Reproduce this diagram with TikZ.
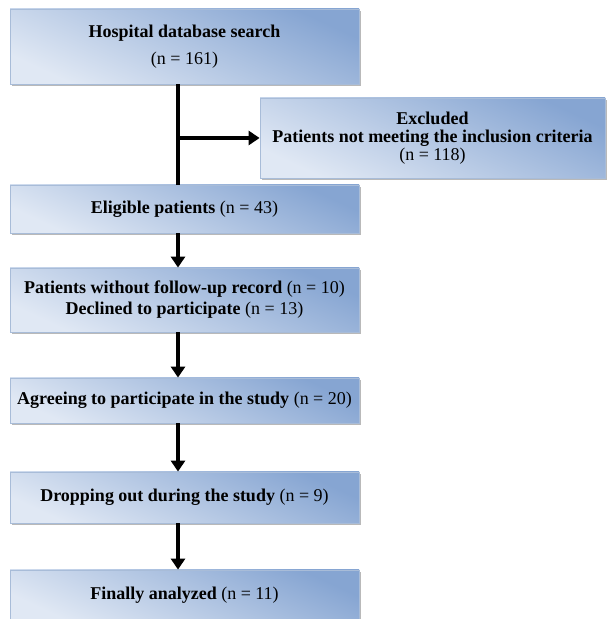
\documentclass[tikz,border=0pt]{standalone}
\usepackage{fontspec}
\setmainfont{Liberation Serif}
\usetikzlibrary{arrows.meta,shadows}
\definecolor{boxtop}{RGB}{134,165,210}
\definecolor{boxbot}{RGB}{224,232,244}
\definecolor{boxline}{RGB}{168,188,216}
\begin{document}
\begin{tikzpicture}[x=1pt, y=1pt,
  every node/.style={inner sep=0pt, align=center, font=\fontsize{18}{21}\selectfont},
  stage/.style={draw=boxline, line width=0.8pt, top color=boxtop, bottom color=boxbot,
    shading angle=-25, minimum width=349pt,
    drop shadow={shadow xshift=1.5pt, shadow yshift=-2pt, fill=gray, opacity=0.55}},
  link/.style={line width=4pt},
  arr/.style={line width=4pt, -{Triangle[width=14pt,length=11pt]}}]
  \useasboundingbox (0,0) rectangle (607,619);
  \node[stage, minimum height=75pt, font=\fontsize{18}{27}\selectfont] (hosp) at (184.5,572.5)
    {\textbf{Hospital database search}\\(n = 161)};
  \node[stage, minimum width=345pt, minimum height=80pt, font=\fontsize{18}{18}\selectfont] (excl) at (432.5,481)
    {\textbf{Excluded}\\\textbf{Patients not meeting the inclusion criteria}\\(n = 118)};
  \node[stage, minimum height=48pt] (elig) at (184.5,410)
    {\textbf{Eligible patients} (n = 43)};
  \node[stage, minimum height=64pt] (nofol) at (184.5,319)
    {\textbf{Patients without follow-up record} (n = 10)\\\textbf{Declined to participate} (n = 13)};
  \node[stage, minimum height=45pt] (agree) at (184.5,218.5)
    {\textbf{Agreeing to participate in the study} (n = 20)};
  \node[stage, minimum height=51pt] (drop) at (184.5,121.5)
    {\textbf{Dropping out during the study} (n = 9)};
  \node[stage, minimum height=50pt] (final) at (184.5,24)
    {\textbf{Finally analyzed} (n = 11)};
  \coordinate (split) at (178,481);
  \draw[link] (hosp.south -| split) -- (elig.north -| split);
  \draw[arr] (split) -- (split -| excl.west);
  \draw[arr] (elig.south -| split) -- (nofol.north -| split);
  \draw[arr] (nofol.south -| split) -- (agree.north -| split);
  \draw[arr] (agree.south -| split) -- (drop.north -| split);
  \draw[arr] (drop.south -| split) -- (final.north -| split);
\end{tikzpicture}
\end{document}
